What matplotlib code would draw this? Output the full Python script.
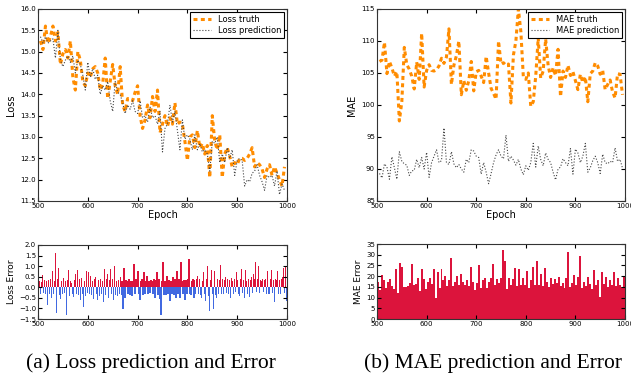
import numpy as np
import matplotlib
matplotlib.use('Agg')
import matplotlib.pyplot as plt

# epochs for the curves (every 5 epochs)
epochs = np.arange(505, 1000, 5)

loss_truth = [15.25, 15.05, 15.6, 15.2, 15.35, 15.6, 15.25, 15.45, 14.7, 14.95,
              15.05, 14.85, 15.25, 14.4, 14.1, 15.0, 14.8, 14.3, 14.2, 14.5,
              14.4, 14.6, 14.65, 14.5, 14.1, 14.25, 14.85, 13.9, 14.3, 14.7,
              14.2, 14.0, 14.65, 13.75, 13.6, 13.9, 13.9, 13.85, 14.05, 14.2,
              13.5, 13.2, 13.4, 13.75, 13.45, 13.95, 13.6, 14.1, 13.1, 13.3,
              13.5, 13.25, 13.45, 13.3, 13.8, 13.3, 13.35, 13.3, 12.9, 12.45,
              13.0, 13.05, 12.75, 13.15, 12.75, 12.85, 12.6, 12.8, 12.05, 13.5,
              12.9, 12.7, 13.05, 12.05, 12.6, 12.75, 12.55, 12.3, 12.4, 12.35,
              12.5, 12.5, 12.45, 12.5, 12.6, 12.75, 12.3, 12.4, 12.35, 12.25,
              12.05, 12.25, 12.35, 12.1, 12.3, 12.15, 12.0, 11.85, 12.3]

loss_pred = [15.35, 15.2, 15.35, 15.2, 15.25, 15.3, 14.85, 15.5, 14.8, 14.65,
             14.8, 14.9, 14.75, 14.9, 14.5, 14.8, 14.7, 14.45, 14.1, 14.75,
             14.4, 14.6, 14.35, 14.45, 14.0, 14.2, 14.1, 14.3, 13.85, 13.6,
             14.3, 14.05, 14.0, 13.8, 13.55, 13.75, 13.65, 13.85, 13.6, 13.55,
             13.85, 13.45, 13.5, 13.35, 13.7, 13.45, 13.5, 13.3, 13.6, 12.65,
             13.2, 13.3, 13.75, 13.35, 13.6, 13.15, 12.7, 13.4, 12.95, 13.05,
             12.95, 12.7, 13.05, 12.7, 12.85, 12.65, 12.7, 12.6, 12.2, 12.9,
             12.85, 13.0, 12.4, 12.6, 12.4, 12.75, 12.5, 12.7, 12.1, 12.45,
             12.5, 12.45, 11.85, 12.0, 11.95, 12.15, 12.2, 12.35, 12.1, 11.95,
             11.75, 12.1, 12.05, 12.1, 11.85, 12.2, 11.65, 11.9, 11.75]

mae_truth = [106.8, 107.0, 109.8, 104.9, 106.8, 105.8, 104.5, 105.2, 97.5, 100.5,
             109.0, 106.3, 105.6, 104.5, 102.5, 106.7, 104.0, 111.2, 102.8, 105.4,
             106.3, 105.4, 105.3, 105.5, 106.1, 107.3, 106.5, 107.5, 111.9, 103.2,
             106.2, 107.7, 110.0, 101.6, 103.8, 102.3, 103.8, 106.8, 102.2, 105.2,
             105.4, 104.5, 103.5, 107.6, 105.0, 102.6, 101.8, 100.9, 110.0, 106.4,
             106.6, 106.2, 106.4, 100.3, 107.8, 110.0, 115.0, 111.5, 104.4, 104.0,
             105.0, 99.8, 100.5, 104.5, 110.5, 104.2, 105.3, 110.3, 106.2, 104.3,
             105.8, 104.6, 108.7, 101.3, 105.3, 104.3, 106.2, 104.6, 105.2, 103.8,
             102.4, 104.8, 103.5, 104.4, 100.5, 104.9, 105.3, 106.6, 106.1, 104.8,
             105.4, 102.4, 103.2, 103.9, 102.0, 101.1, 104.9, 104.8, 101.6]

mae_pred = [89.3, 88.6, 90.8, 90.3, 88.4, 91.9, 90.2, 88.4, 92.7, 91.2,
            90.8, 90.6, 89.0, 89.7, 89.8, 91.5, 90.2, 91.8, 90.0, 92.6,
            88.7, 91.0, 92.0, 93.0, 91.0, 91.3, 96.4, 91.0, 90.7, 92.7,
            90.8, 90.2, 90.7, 90.0, 89.5, 91.5, 91.0, 93.0, 92.8, 92.0,
            91.8, 89.2, 91.0, 89.5, 87.7, 89.3, 91.0, 92.2, 93.0, 92.0,
            91.6, 95.3, 91.2, 92.0, 91.4, 90.6, 91.5, 90.0, 89.1, 90.5,
            89.8, 91.0, 94.0, 90.3, 93.6, 91.5, 90.5, 92.5, 91.5, 91.0,
            89.5, 88.3, 90.0, 90.3, 91.6, 91.0, 90.5, 93.2, 89.2, 93.1,
            92.5, 91.0, 92.0, 94.0, 89.5, 90.2, 91.3, 92.0, 91.0, 89.3,
            92.3, 91.0, 90.8, 91.2, 91.0, 93.3, 91.2, 91.5, 90.1]

# per-epoch errors (every 2 epochs for loss, every 4 for MAE)
loss_err_epochs = np.arange(501, 1000, 2)
loss_err = [-0.2, 0.3, -0.3, 0.25, 0.6, -0.25, 0.35, -0.3, 0.3, -0.85,
            0.35, -0.3, 0.4, -0.5, 0.75, -0.3, 0.3, 1.6, -1.2, 0.4,
            0.9, -0.35, -0.55, 0.3, -0.3, 0.45, -0.25, 0.3, -1.3, 0.35,
            0.8, -0.4, 0.3, 0.2, -0.3, -0.45, 0.35, 0.65, -0.3, 0.8,
            -0.35, 0.4, -0.6, 0.45, -0.3, -0.95, 0.3, -0.4, 0.75, -0.25,
            0.7, -0.3, 0.55, -0.35, 0.3, -0.55, 0.4, 0.5, -0.3, -0.6,
            0.35, -0.4, 0.4, -0.3, 0.3, -0.7, 0.85, -0.35, 0.4, 0.65,
            -0.5, 0.35, 0.85, -0.3, 0.4, -0.6, 1.0, -0.35, 0.3, -0.4,
            0.35, -0.3, 0.5, -0.35, 0.3, -1.05, 0.9, -0.5, 0.35, 0.3,
            -0.3, 0.4, -0.35, 0.3, -0.4, 0.3, 1.1, -0.3, 0.4, 0.25,
            0.75, -0.3, -0.6, 0.3, 0.4, -0.35, 0.7, -0.3, 0.3, 0.55,
            -0.3, 0.3, -0.25, 0.35, 0.3, -0.3, 0.4, -0.5, 0.35, 0.7,
            -0.35, 0.4, -0.55, -1.3, 0.3, 1.2, -0.35, 0.3, -0.35, 0.55,
            -0.3, 0.35, -0.65, 0.3, -0.3, 0.5, -0.35, 0.4, -0.5, 0.75,
            -0.3, 0.4, -0.5, 1.2, 0.3, -0.3, 0.35, -0.6, 0.35, -0.3,
            0.4, 1.35, -0.3, -0.35, 0.3, 0.4, -0.5, 0.35, -0.3, 0.4,
            0.55, -0.3, 0.4, -0.35, -0.5, 0.3, 0.7, -0.3, -0.65, 0.4,
            1.0, -0.4, -1.1, 0.35, 0.8, -0.3, -1.05, 0.75, -0.35, -0.5,
            0.4, -0.3, 0.35, 1.05, -0.3, 0.4, -0.3, 0.35, 0.5, -0.25,
            0.4, -0.3, 0.35, -0.5, 0.45, 0.3, -0.3, 0.4, -0.2, 0.7,
            0.35, -0.3, -0.4, 0.4, 0.85, -0.25, 0.35, -0.5, 0.8, 0.3,
            -0.3, 0.4, -0.45, 0.35, 0.5, -0.25, 0.65, 0.4, 1.2, -0.2,
            0.4, 1.0, -0.25, 0.35, 0.3, 0.4, -0.2, 0.35, 0.4, -0.3,
            0.75, -0.3, -0.3, 0.4, 0.8, -0.25, 0.35, -0.7, 0.4, 0.35,
            0.75, -0.3, 0.35, -0.3, 0.4, 0.5, 0.9, -0.25, 1.0, -0.65]

mae_err_epochs = np.arange(502, 1000, 4)
mae_err = [17.5, 13.5, 20.5, 18, 14.5, 17.5, 18.5, 15.5, 14, 23.5,
           12, 26, 24.5, 15, 15, 15.5, 17, 25.5, 16, 16.5,
           19, 13, 23.5, 18.5, 14, 17.5, 19, 16.5, 23.5, 10,
           22, 14.5, 23.5, 18, 20, 15.5, 18, 28.3, 15.5, 17.5,
           20, 16, 21, 17.5, 16, 18, 15.5, 24.5, 17.5, 13.5,
           17, 25, 14.5, 18, 19, 14.5, 17.5, 19, 25.5, 16,
           18.5, 17, 19, 32, 27, 14, 19, 16, 18.5, 24,
           15.5, 23.5, 16, 19, 16, 22.5, 14.5, 18, 24.5, 16,
           27, 16, 21, 15.5, 24, 17.5, 15, 19, 16.5, 18.5,
           17, 19.5, 15.5, 17, 14.5, 19, 31.5, 15, 17, 20.5,
           16, 19.5, 29.3, 14.5, 17.5, 15.5, 19.5, 16.5, 14, 23,
           16, 18, 10.5, 22, 16.5, 19.5, 15, 18, 16, 22,
           15.5, 19, 16, 15, 20]

plt.rcParams['font.family'] = 'DejaVu Sans'
plt.rcParams['xtick.direction'] = 'in'
plt.rcParams['ytick.direction'] = 'in'
plt.rcParams['xtick.top'] = True
plt.rcParams['ytick.right'] = True
plt.rcParams['xtick.labelsize'] = 5
plt.rcParams['ytick.labelsize'] = 5
plt.rcParams['xtick.major.size'] = 3
plt.rcParams['ytick.major.size'] = 3
plt.rcParams['xtick.major.pad'] = 1.5
plt.rcParams['ytick.major.pad'] = 1.5
plt.rcParams['axes.linewidth'] = 0.8
plt.rcParams['axes.edgecolor'] = '#333333'

orange = '#FF8C00'
red = '#DC143C'
blue = '#4169E1'

fig = plt.figure(figsize=(6.31, 3.79), dpi=100)
ax1 = fig.add_axes([0.0602, 0.4697, 0.3946, 0.5066])
ax2 = fig.add_axes([0.5975, 0.4697, 0.3930, 0.5066])
ax3 = fig.add_axes([0.0602, 0.1583, 0.3946, 0.1953])
ax4 = fig.add_axes([0.5975, 0.1583, 0.3930, 0.1979])

truth_style = dict(color=orange, lw=2.2, linestyle=(0, (1.3, 1.1)))
pred_style = dict(color='#444444', lw=0.8, linestyle=':')

# top-left: loss curves
ax1.plot(epochs, loss_truth, label='Loss truth', **truth_style)
ax1.plot(epochs, loss_pred, label='Loss prediction', **pred_style)
ax1.set_xlim(500, 1000)
ax1.set_ylim(11.5, 16.0)
ax1.set_yticks(np.arange(11.5, 16.01, 0.5))
ax1.set_xticks(np.arange(500, 1001, 100))
ax1.set_xlabel('Epoch', fontsize=7, labelpad=1)
ax1.set_ylabel('Loss', fontsize=7, labelpad=3)

# top-right: MAE curves
ax2.plot(epochs, mae_truth, label='MAE truth', **truth_style)
ax2.plot(epochs, mae_pred, label='MAE prediction', **pred_style)
ax2.set_xlim(500, 1000)
ax2.set_ylim(85, 115)
ax2.set_yticks(np.arange(85, 116, 5))
ax2.set_xticks(np.arange(500, 1001, 100))
ax2.set_xlabel('Epoch', fontsize=7, labelpad=1)
ax2.set_ylabel('MAE', fontsize=7, labelpad=3)

for ax in (ax1, ax2):
    leg = ax.legend(loc='upper right', fontsize=6, fancybox=False, framealpha=1,
                    edgecolor='black', handlelength=2.2, borderpad=0.35,
                    labelspacing=0.25, borderaxespad=0.35)
    leg.get_frame().set_linewidth(0.8)

# bottom-left: loss error bars, red positive / blue negative
loss_err = np.array(loss_err)
pos = loss_err >= 0
ax3.bar(loss_err_epochs[pos], loss_err[pos], width=2.6, color=red, linewidth=0)
ax3.bar(loss_err_epochs[~pos], loss_err[~pos], width=2.6, color=blue, linewidth=0)
ax3.set_xlim(500, 1000)
ax3.set_ylim(-1.5, 2.0)
ax3.set_yticks(np.arange(-1.5, 2.01, 0.5))
ax3.set_xticks(np.arange(500, 1001, 100))
ax3.set_ylabel('Loss Error', fontsize=6.5, labelpad=2)

# bottom-right: MAE error bars
ax4.bar(mae_err_epochs, mae_err, width=4, color=red, linewidth=0)
ax4.set_xlim(500, 1000)
ax4.set_ylim(0, 35)
ax4.set_yticks(np.arange(0, 36, 5))
ax4.set_xticks(np.arange(500, 1001, 100))
ax4.set_ylabel('MAE Error', fontsize=6.5, labelpad=2)

fig.text(0.239, 0.042, '(a) Loss prediction and Error', ha='center', va='center',
         family='Liberation Serif', fontsize=15.5)
fig.text(0.781, 0.042, '(b) MAE prediction and Error', ha='center', va='center',
         family='Liberation Serif', fontsize=15.5)

fig.savefig('out.png', dpi=100)
